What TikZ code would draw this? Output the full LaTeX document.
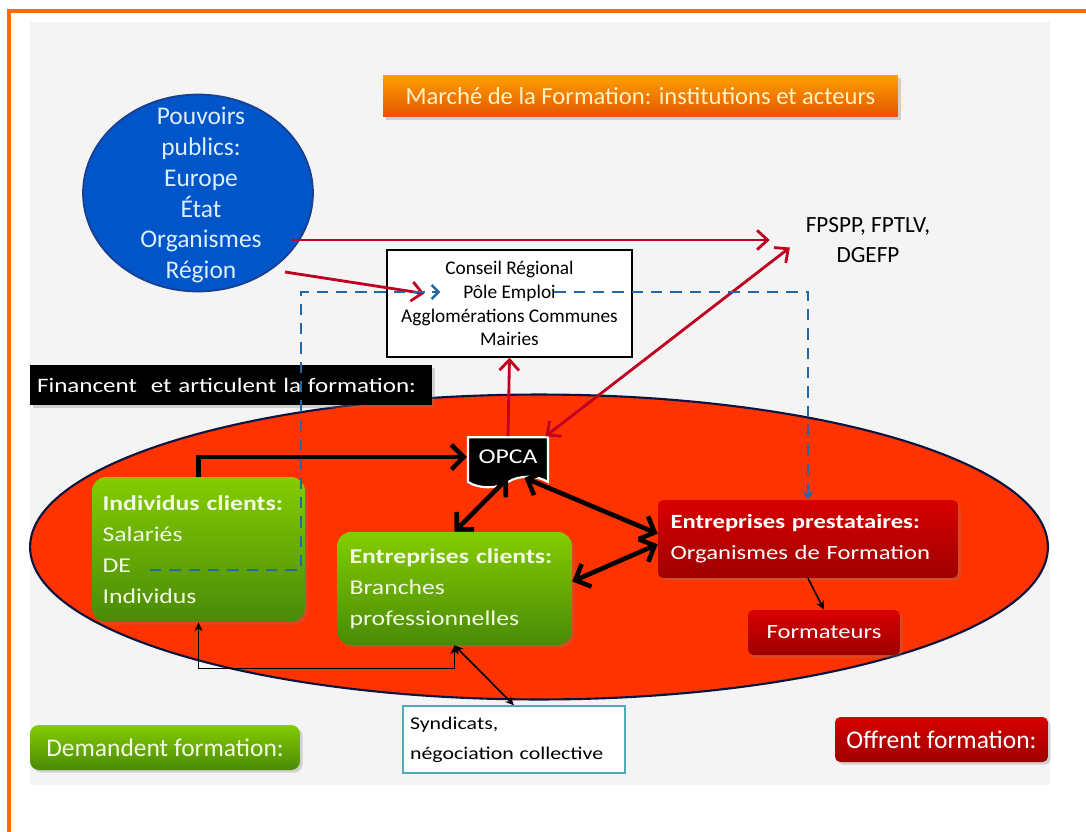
\documentclass[tikz,border=0pt]{standalone}
\usepackage{fontspec}
\setmainfont{Carlito}
\newfontfamily\widefont{Carlito}[FakeStretch=1.22]
\usetikzlibrary{calc}
\usetikzlibrary{arrows.meta}
\usetikzlibrary{shapes.geometric,shapes.symbols,shadows}

\definecolor{framorange}{HTML}{FF6A00}
\definecolor{panelgray}{HTML}{F4F4F4}
\definecolor{pubblue}{HTML}{0055C8}
\definecolor{pubedge}{HTML}{1B3F8F}
\definecolor{pubtext}{HTML}{DCEEFF}
\definecolor{marketred}{HTML}{FF3300}
\definecolor{marketedge}{HTML}{0A1440}
\definecolor{greentop}{HTML}{84CC00}
\definecolor{greenbot}{HTML}{4A8A08}
\definecolor{redtop}{HTML}{D80000}
\definecolor{redbot}{HTML}{9E0000}
\definecolor{flowred}{HTML}{C00020}
\definecolor{dashblue}{HTML}{2468A8}
\definecolor{syndteal}{HTML}{4FA9B8}
\definecolor{titletop}{HTML}{FFA000}
\definecolor{titlebot}{HTML}{E25400}
\definecolor{titletext}{HTML}{FFF3C4}
\definecolor{paletext}{HTML}{F2FAE2}

\tikzset{
  softshadow/.style={drop shadow={opacity=.3, shadow xshift=1.5pt, shadow yshift=-1.5pt}},
  greenfill/.style={top color=greentop, bottom color=greenbot, text=paletext},
  redfill/.style={top color=redtop, bottom color=redbot, text=white},
  acteur/.style={rounded corners=8pt, align=left, inner xsep=0pt, font=\widefont\fontsize{12}{17.6}\selectfont, softshadow},
  legende/.style={rounded corners=5pt, minimum height=.9cm, font=\fontsize{14.5}{16}\selectfont, softshadow},
  redflow/.style={flowred, line width=1.6pt, >={Straight Barb[length=6pt,width=11pt]}},
  fatflow/.style={black, line width=2.6pt, >={Straight Barb[length=7pt,width=14pt]}},
  thinflow/.style={black, line width=.9pt, >={Stealth[length=5pt,width=4.5pt]}},
  dashflow/.style={dashblue, line width=1.4pt, dash pattern=on 6.5pt off 4.5pt, >={Straight Barb[length=4pt,width=8pt]}}
}

\begin{document}
\begin{tikzpicture}[x=0.02cm,y=-0.02cm]
\useasboundingbox (0,0) rectangle (1086,832);
% fond et cadre
\fill[white] (0,0) rectangle (1086,832);
\fill[panelgray] (30,22) rectangle (1050,785);
\draw[framorange, line width=2pt] (9,832) -- (9,11) -- (1086,11);

\node[top color=titletop, bottom color=titlebot, text=titletext, minimum width=10.3cm, minimum height=.84cm, font=\fontsize{14}{15}\selectfont, softshadow] (titre) at (640.5,96) {Marché de la Formation: institutions et acteurs};

% pouvoirs publics
\node[ellipse, fill=pubblue, draw=pubedge, line width=1pt, minimum width=4.6cm, minimum height=3.94cm, inner sep=0pt] (pouvoirs) at (198,193) {};
\node[text=pubtext, align=center, font=\fontsize{14.5}{17.6}\selectfont] (pouvoirstxt) at (201,195) {Pouvoirs\\publics:\\Europe\\État\\Organismes\\Région};

\node[align=center, font=\fontsize{13.2}{17}\selectfont] (fpspp) at (868,240) {FPSPP, FPTLV,\\DGEFP};

\node[draw=black, fill=white, line width=.8pt, minimum width=4.9cm, minimum height=2.14cm, align=center, font=\fontsize{11}{13.6}\selectfont] (conseil) at (509.5,303.5) {Conseil Régional\\Pôle Emploi\\Agglomérations Communes\\Mairies};

% le marche
\node[ellipse, fill=marketred, draw=marketedge, line width=1.2pt, minimum width=20.36cm, minimum height=6.1cm, inner sep=0pt] (marche) at (539,547) {};

\node[fill=black, text=white, minimum width=8.04cm, minimum height=.8cm, text width=7.76cm, inner xsep=0pt, align=left, font=\widefont\fontsize{11.7}{14}\selectfont, softshadow] (financent) at (231,385) {Financent \ et articulent la formation:};

\node[tape, tape bend top=none, tape bend height=6pt, fill=black, draw=white, line width=1.2pt, text=white, minimum width=1.6cm, minimum height=1cm, font=\widefont\fontsize{12}{14}\selectfont] (opca) at (508,457) {OPCA};

\node[acteur, greenfill, minimum width=4.26cm, minimum height=2.9cm, text width=3.84cm] (individus) at (198.5,549.5) {\textbf{Individus clients:}\\Salariés\\DE\\Individus};
\node[acteur, greenfill, minimum width=4.7cm, minimum height=2.26cm, text width=4.2cm] (eclients) at (454.5,588.5) {\textbf{Entreprises clients:}\\Branches\\professionnelles};
\node[acteur, redfill, rounded corners=3pt, minimum width=6cm, minimum height=1.56cm, text width=5.5cm, font=\widefont\fontsize{11.5}{17.6}\selectfont] (prestataires) at (808,539) {\textbf{Entreprises prestataires:}\\Organismes de Formation};
\node[redfill, rounded corners=3pt, minimum width=3.04cm, minimum height=.9cm, font=\widefont\fontsize{11.5}{14}\selectfont, softshadow] (formateurs) at (824,632.5) {Formateurs};

\node[draw=syndteal, fill=white, line width=.8pt, minimum width=4.44cm, minimum height=1.34cm, text width=4.16cm, inner xsep=0pt, align=left, font=\widefont\fontsize{10.2}{17}\selectfont] (syndicats) at (514,739.5) {Syndicats,\\négociation collective};

\node[legende, greenfill, minimum width=5.4cm] (demandent) at (165,747.5) {Demandent formation:};
\node[legende, redfill, rounded corners=3pt, minimum width=4.26cm] (offrent) at (941.5,739.5) {Offrent formation:};

% points libres
\coordinate (orgout) at (292,240);
\coordinate (regout) at (285,272);
\coordinate (deline) at (150,570);
\coordinate (dashcorner) at (301,292);
\coordinate (regto) at ($(conseil.west)+(38,-10)$);
\coordinate (poleto) at ($(conseil.west)+(54,-11.5)$);
\coordinate (polefrom) at ($(conseil.west)+(168,-11.5)$);

% financement
\draw[redflow, ->] (orgout) -- (fpspp.west) [shorten >=17pt];
\draw[redflow, ->] (regout) -- (regto);
\draw[redflow, ->] (opca.north) -- (conseil.south);
\draw[redflow, <->] ([xshift=-2pt]opca.north east) -- (fpspp.west) [shorten >=7pt];

\draw[dashflow, ->] (deline) -| (dashcorner) -- (poleto);
\draw[dashflow, -{Stealth[length=5pt,width=6pt]}] (polefrom) -| (prestataires.north);

% relations du marche
\draw[fatflow, ->] (individus.north) |- (opca.west);
\draw[fatflow, <->] (opca.south) -- (eclients.north);
\draw[fatflow, <->] ([xshift=-14pt]opca.south east) -- ([yshift=3pt]prestataires.west);
\draw[fatflow, <->] ([yshift=-3pt]prestataires.west) -- ([yshift=4pt]eclients.east);
\draw[thinflow, ->] (prestataires.south) -- (formateurs.north);
\draw[thinflow, <->] (individus.south) -- ++(0,46) -| (eclients.south);
\draw[thinflow, <->] (eclients.south) -- (syndicats.north);
\end{tikzpicture}
\end{document}
